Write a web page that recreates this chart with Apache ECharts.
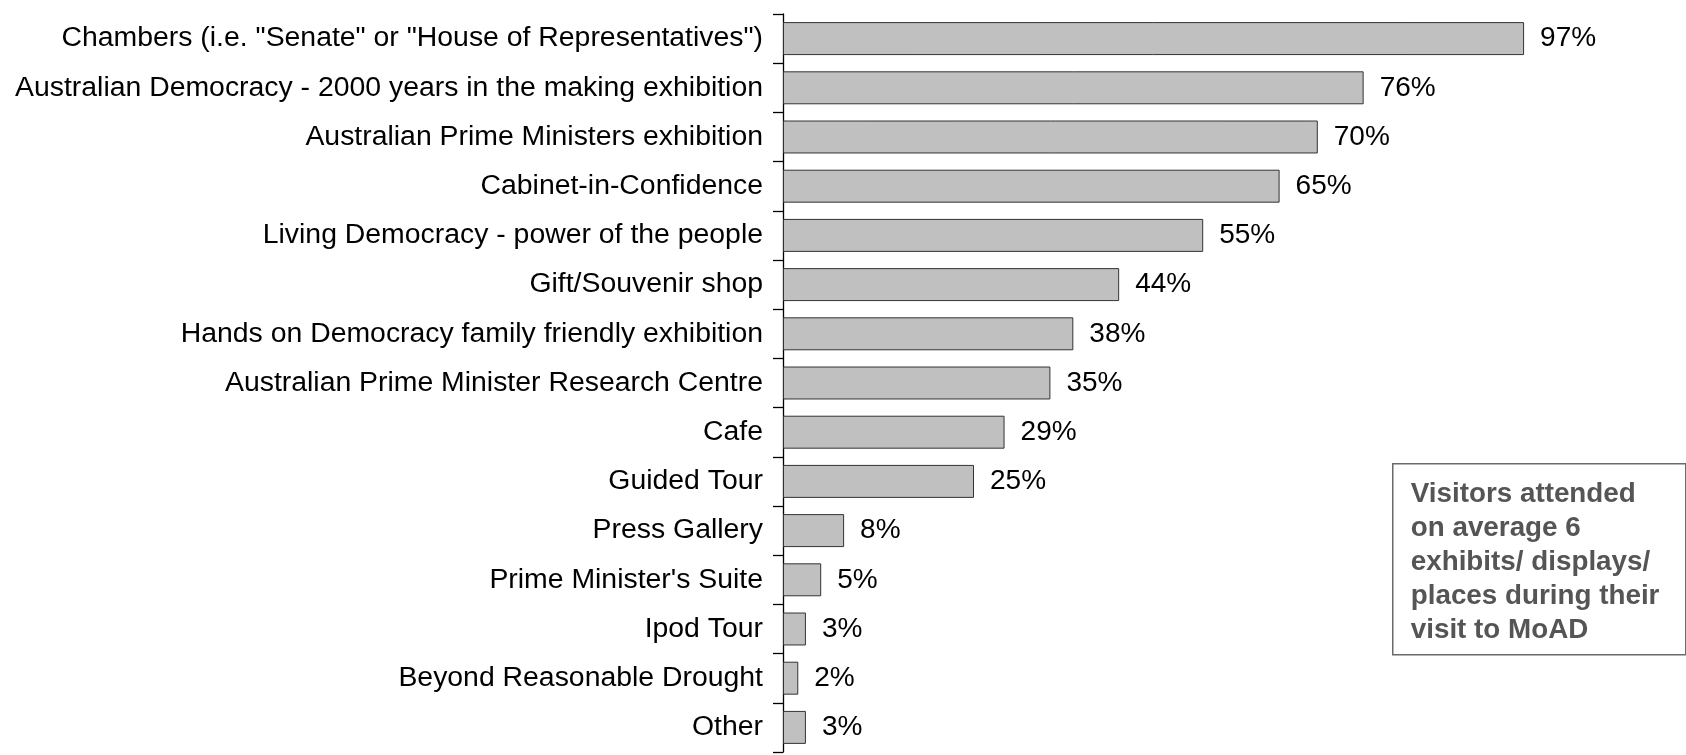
<!DOCTYPE html>
<html>
<head>
<meta charset="utf-8">
<title>MoAD exhibits visited</title>
<script src="https://cdn.jsdelivr.net/npm/echarts@6/dist/echarts.min.js"></script>
<style>
  html, body { margin: 0; padding: 0; background: #ffffff; }
  #chart { width: 1686px; height: 755px; }
</style>
</head>
<body>
<div id="chart"></div>
<script>
// Exhibits / displays / places visited, share of visitors (%)
const categories = [
  'Chambers (i.e. "Senate" or "House of Representatives")',
  'Australian Democracy - 2000 years in the making exhibition',
  'Australian Prime Ministers exhibition',
  'Cabinet-in-Confidence',
  'Living Democracy - power of the people',
  'Gift/Souvenir shop',
  'Hands on Democracy family friendly exhibition',
  'Australian Prime Minister Research Centre',
  'Cafe',
  'Guided Tour',
  'Press Gallery',
  "Prime Minister's Suite",
  'Ipod Tour',
  'Beyond Reasonable Drought',
  'Other'
];
const visitedPct = [97, 76, 70, 65, 55, 44, 38, 35, 29, 25, 8, 5, 3, 2, 3];

const noteLines = [
  'Visitors attended',
  'on average 6',
  'exhibits/ displays/',
  'places during their',
  'visit to MoAD'
];

const FONT = '"Liberation Sans", Arial, Helvetica, sans-serif';

const chart = echarts.init(document.getElementById('chart'), null, { renderer: 'canvas' });

chart.setOption({
  backgroundColor: '#ffffff',
  animation: false,
  grid: { left: 783, right: 139, top: 14, bottom: 3, containLabel: false },
  xAxis: {
    type: 'value',
    min: 0,
    max: 100,
    show: false
  },
  yAxis: {
    type: 'category',
    data: categories,
    inverse: true,
    axisLine: { show: true, lineStyle: { color: '#000000', width: 1.3 } },
    axisTick: { show: true, inside: false, length: 10, lineStyle: { color: '#000000', width: 1.3 } },
    axisLabel: {
      margin: 20,
      color: '#000000',
      fontFamily: FONT,
      fontSize: 28.4
    },
    splitLine: { show: false }
  },
  series: [{
    type: 'bar',
    data: visitedPct,
    barCategoryGap: '33%',
    itemStyle: {
      color: '#c0c0c0',
      borderColor: '#333333',
      borderWidth: 1
    },
    label: {
      show: true,
      position: 'right',
      distance: 16,
      formatter: '{c}%',
      color: '#000000',
      fontFamily: FONT,
      fontSize: 28
    }
  }],
  graphic: [{
    type: 'group',
    left: 1392,
    top: 463,
    children: [{
      type: 'rect',
      shape: { x: 0, y: 0, width: 293, height: 191 },
      style: { fill: '#ffffff', stroke: '#6a6a6a', lineWidth: 1.5 }
    }, {
      type: 'text',
      x: 18,
      y: 98.5,
      style: {
        text: noteLines.join('\n'),
        fill: '#555555',
        fontFamily: FONT,
        fontWeight: 'bold',
        fontSize: 27.8,
        lineHeight: 34,
        align: 'left',
        verticalAlign: 'middle'
      }
    }]
  }]
});
</script>
</body>
</html>
